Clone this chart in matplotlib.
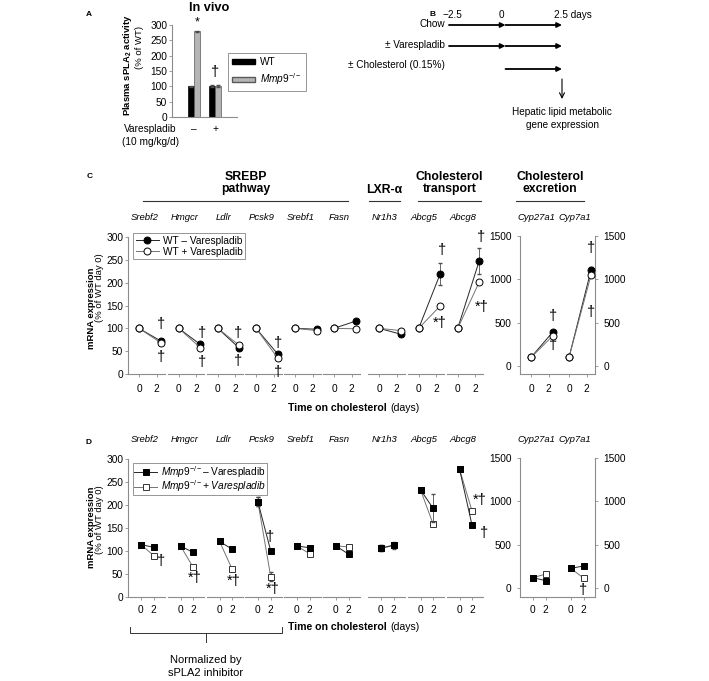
import matplotlib
matplotlib.use("Agg")
import matplotlib.pyplot as plt
import numpy as np
from matplotlib import transforms
from matplotlib.lines import Line2D
from matplotlib.patches import Patch

plt.rcParams["font.family"] = ["Liberation Sans", "DejaVu Sans"]
plt.rcParams["mathtext.fontset"] = "custom"
plt.rcParams["mathtext.rm"] = "Liberation Sans"
plt.rcParams["mathtext.it"] = "Liberation Sans:italic"
plt.rcParams["mathtext.bf"] = "Liberation Sans:bold"

W, H = 709, 681
AXIS_GRAY = "0.55"

# panel A: plasma sPLA2 activity (% of WT)
a_groups = ["\u2013", "+"]
a_wt = [100, 100]
a_wt_err = [1, 3]
a_mmp9 = [280, 102]
a_mmp9_err = [2, 3]

# panel B: study design (days)
b_rows = ["Chow", "\u00b1 Varespladib", "\u00b1 Cholesterol (0.15%)"]
b_start = [-2.5, -2.5, 0.0]
b_end = [2.5, 2.5, 2.5]

# panels C/D: hepatic mRNA expression (% of WT day 0)
genes_left = ["Srebf2", "Hmgcr", "Ldlr", "Pcsk9", "Srebf1", "Fasn", "Nr1h3", "Abcg5", "Abcg8"]
genes_right = ["Cyp27a1", "Cyp7a1"]
header_names = ["SREBP\npathway", "LXR-\u03b1", "Cholesterol\ntransport", "Cholesterol\nexcretion"]

c_days = [0, 2.5]
c_minus_d0 = [100, 100, 100, 100, 100, 100, 100, 100, 100, 100, 100]
c_minus_d2 = [72, 65, 57, 43, 98, 116, 87, 219, 247, 396, 1107]
c_minus_err0 = [0, 0, 0, 0, 0, 0, 0, 0, 0, 0, 0]
c_minus_err2 = [0, 0, 0, 0, 0, 0, 0, 24, 29, 0, 30]
c_plus_d0 = [100, 100, 100, 100, 100, 100, 100, 100, 100, 100, 100]
c_plus_d2 = [68, 58, 63, 34, 95, 99, 95, 149, 201, 350, 1050]
c_marks = [("Srebf2", 2.5, 109, "\u2020"), ("Srebf2", 2.5, 38, "\u2020"),
           ("Hmgcr", 2.7, 90, "\u2020"), ("Hmgcr", 2.7, 26, "\u2020"),
           ("Ldlr", 2.4, 90, "\u2020"), ("Ldlr", 2.4, 28, "\u2020"),
           ("Pcsk9", 2.5, 68, "\u2020"), ("Pcsk9", 2.5, 4, "\u2020"),
           ("Abcg5", 2.7, 271, "\u2020"), ("Abcg5", 2.5, 112, "*\u2020"),
           ("Abcg8", 2.7, 300, "\u2020"), ("Abcg8", 2.85, 147, "*\u2020"),
           ("Cyp27a1", 2.55, 577, "\u2020"), ("Cyp27a1", 2.55, 242, "\u2020"),
           ("Cyp7a1", 2.45, 1357, "\u2020"), ("Cyp7a1", 2.45, 626, "\u2020")]

d_days = [0, 2]
d_minus_d0 = [114, 111, 121, 207, 111, 111, 106, 233, 278, 119, 227]
d_minus_d2 = [108, 97, 104, 100, 107, 93, 113, 193, 156, 84, 254]
d_minus_err0 = [4, 0, 0, 10, 0, 0, 7, 0, 0, 0, 0]
d_minus_err2 = [0, 0, 0, 0, 0, 0, 0, 31, 0, 0, 0]
d_plus_d0 = [114, 111, 121, 207, 111, 111, 106, 233, 278, 119, 227]
d_plus_d2 = [90, 65, 61, 44, 94, 109, 112, 159, 187, 161, 112]
d_marks = [("Srebf2", 3.2, 78, "\u2020"), ("Hmgcr", 2.2, 42, "*\u2020"),
           ("Ldlr", 2.3, 35, "*\u2020"), ("Pcsk9", 1.9, 131, "\u2020"),
           ("Pcsk9", 2.3, 17, "*\u2020"), ("Abcg8", 3.3, 211, "*\u2020"),
           ("Abcg8", 3.9, 140, "\u2020"), ("Cyp7a1", 1.9, -20, "\u2020")]

# layout, in reference pixels
seg_left = [(128, 165), (168, 204), (207, 243), (245, 282), (284, 321),
            (323, 360), (368, 405), (408, 444), (447, 483)]
seg_right = [(520, 557), (558, 595)]
header_spans = [(143, 348), (369, 400), (418, 481), (516, 584)]

fig = plt.figure(figsize=(W / 100, H / 100), dpi=100)
fig_px = transforms.Affine2D().scale(1 / W, -1 / H).translate(0, 1) + fig.transFigure


def add_px_axes(left, top, right, bottom):
    return fig.add_axes([left / W, 1 - bottom / H, (right - left) / W, (bottom - top) / H])


def ftext(x, y, s, **kw):
    kw.setdefault("ha", "center")
    kw.setdefault("va", "center")
    return fig.text(x, y, s, transform=fig_px, **kw)


# ---------------- A ----------------
ax_a = add_px_axes(172, 25, 237, 117)
xa = np.arange(len(a_groups))
bw = 0.3
ekw = dict(lw=0.6, capsize=1.5, ecolor="0.3")
ax_a.bar(xa - bw / 2, a_wt, bw, yerr=a_wt_err, color="black", edgecolor="black", lw=0.5, error_kw=ekw)
ax_a.bar(xa + bw / 2, a_mmp9, bw, yerr=a_mmp9_err, color="#b5b5b5", edgecolor="0.35", lw=0.5, error_kw=ekw)
ax_a.set_xlim(-1.05, 2.05)
ax_a.set_ylim(0, 300)
ax_a.set_yticks(range(0, 301, 50))
ax_a.set_xticks([])
ax_a.tick_params(axis="y", labelsize=7.3, length=2, width=0.6, color=AXIS_GRAY, pad=1.5)
for side in ("top", "right"):
    ax_a.spines[side].set_visible(False)
for side in ("left", "bottom"):
    ax_a.spines[side].set_color(AXIS_GRAY)
    ax_a.spines[side].set_linewidth(0.8)
ax_a.text(xa[0] + bw / 2, 288, "*", ha="center", va="bottom", fontsize=9)
ax_a.text(xa[1], 147, "\u2020", ha="center", va="center", fontsize=10.5)
grp_tr = transforms.blended_transform_factory(ax_a.transData, fig_px)
for x, g in zip(xa, a_groups):
    ax_a.text(x, 129, g, transform=grp_tr, ha="center", va="center", fontsize=7.3)
ftext(150, 129, "Varespladib", fontsize=7.3)
ftext(150, 142, "(10 mg/kg/d)", fontsize=7.3)
ftext(209, 8, "In vivo", fontsize=9.2, fontweight="bold")
ftext(127, 65, r"Plasma sPLA$_\mathbf{2}$ activity", fontsize=6.8, fontweight="bold", rotation=90)
ftext(139, 47, "(% of WT)", fontsize=6.8, rotation=90)
ftext(89, 14, "A", fontsize=6, fontweight="bold")
leg_a = ax_a.legend([Patch(facecolor="black", edgecolor="black"),
                     Patch(facecolor="#b5b5b5", edgecolor="0.35")],
                    ["WT", r"$\mathit{Mmp9}^{-/-}$"],
                    loc="upper left", bbox_to_anchor=(228 / W, 1 - 53 / H),
                    bbox_transform=fig.transFigure, fontsize=7.3, frameon=True,
                    fancybox=False, edgecolor="0.4", handlelength=2.3, handleheight=0.45,
                    labelspacing=0.4, borderpad=0.4, handletextpad=0.5, borderaxespad=0)
leg_a.get_frame().set_linewidth(0.6)

# ---------------- B ----------------
ax_b = add_px_axes(449, 0, 562, 131)
ax_b.set_xlim(-2.5, 2.5)
ax_b.set_ylim(131, 0)
ax_b.axis("off")
row_y = [25, 46, 69]
label_y = [24, 45, 65]
head = dict(arrowstyle="-|>", lw=1.3, color="black", mutation_scale=7, shrinkA=0, shrinkB=0)
for lab, s, e, y, ly in zip(b_rows, b_start, b_end, row_y, label_y):
    if s < 0:
        ax_b.annotate("", xy=(0, y), xytext=(s, y), arrowprops=head)
        ax_b.annotate("", xy=(e, y), xytext=(0, y), arrowprops=head)
    else:
        ax_b.annotate("", xy=(e, y), xytext=(s, y), arrowprops=head)
    ax_b.text(-2.5 - 0.18, ly, lab, ha="right", va="center", fontsize=7.2)
ax_b.text(-2.35, 15, "\u22122.5", ha="center", va="center", fontsize=7.2)
ax_b.text(-0.18, 15, "0", ha="center", va="center", fontsize=7.2)
ax_b.text(2.15, 15, "2.5 days", ha="left", va="center", fontsize=7.2)
ax_b.annotate("", xy=(2.5, 99), xytext=(2.5, 79),
              arrowprops=dict(arrowstyle="->", lw=0.8, color="black", mutation_scale=9,
                              shrinkA=0, shrinkB=0))
ax_b.text(2.5, 112, "Hepatic lipid metabolic", ha="center", va="center", fontsize=7.2)
ax_b.text(2.5, 125, "gene expression", ha="center", va="center", fontsize=7.2)
ftext(432, 14, "B", fontsize=6, fontweight="bold")


# ---------------- C / D ----------------
def draw_expression(top, bottom, right_top, right_floor, days, xlim, series, marks,
                    label_y, tick_pad):
    axes = {}
    for gene, (l, r) in zip(genes_left, seg_left):
        ax = add_px_axes(l, top, r, bottom)
        ax.set_ylim(0, 300)
        axes[gene] = ax
    for gene, (l, r) in zip(genes_right, seg_right):
        ax = add_px_axes(l, right_top, r, bottom)
        ax.set_ylim(right_floor, 1500)
        axes[gene] = ax

    genes = genes_left + genes_right
    for i, gene in enumerate(genes):
        ax = axes[gene]
        ax.set_facecolor("none")
        ax.set_xlim(*xlim)
        ax.set_xticks([0, 2])
        ax.set_xticklabels(["0", "2"])
        ax.tick_params(axis="x", labelsize=7.3, length=2, width=0.6, color=AXIS_GRAY, pad=tick_pad)
        ax.tick_params(axis="y", labelsize=7.3, length=2, width=0.6, color=AXIS_GRAY, pad=1.5)
        for side in ("top", "right", "left"):
            ax.spines[side].set_visible(False)
        ax.spines["bottom"].set_color(AXIS_GRAY)
        ax.spines["bottom"].set_linewidth(0.8)
        if gene == genes_left[0]:
            ax.spines["left"].set_visible(True)
            ax.set_yticks(range(0, 301, 50))
        elif gene == genes_right[0]:
            ax.spines["left"].set_visible(True)
            ax.set_yticks(range(0, 1501, 500))
            ax.tick_params(axis="y", pad=4)
        elif gene == genes_right[-1]:
            ax.spines["right"].set_visible(True)
            ax.yaxis.tick_right()
            ax.set_yticks(range(0, 1501, 500))
            ax.tick_params(axis="y", pad=4)
        else:
            ax.set_yticks([])
        for side in ("left", "right"):
            ax.spines[side].set_color(AXIS_GRAY)
            ax.spines[side].set_linewidth(0.8)

        for d0, d2, e0, e2, style in series:
            ax.plot(days, [d0[i], d2[i]], clip_on=False, **style)
            if e0[i] or e2[i]:
                ax.errorbar(days, [d0[i], d2[i]], yerr=[e0[i], e2[i]], fmt="none",
                            ecolor="0.3", elinewidth=0.6, capsize=1.5, zorder=style["zorder"] - 0.5)

        lab_tr = transforms.blended_transform_factory(ax.transAxes, fig_px)
        ax.text(0.45, label_y, gene, transform=lab_tr, ha="center", va="center",
                fontsize=6.8, style="italic")

    for gene, x, y, s in marks:
        axes[gene].text(x, y, s, ha="center", va="center", fontsize=10.5)
    return axes


filled_c = dict(color="0.15", lw=0.7, marker="o", ms=5, mfc="black", mec="black", mew=0.7, zorder=3)
open_c = dict(color="0.45", lw=0.7, marker="o", ms=5, mfc="white", mec="black", mew=0.7, zorder=4)
axes_c = draw_expression(237, 374, 236, -92, c_days, (-1.25, 2.95),
                         [(c_minus_d0, c_minus_d2, c_minus_err0, c_minus_err2, filled_c),
                          (c_plus_d0, c_plus_d2, c_minus_err0, c_minus_err0, open_c)],
                         c_marks, 217, 5)

filled_d = dict(color="0.15", lw=0.7, marker="s", ms=4.6, mfc="black", mec="black", mew=0.7, zorder=4)
open_d = dict(color="0.45", lw=0.7, marker="s", ms=4.6, mfc="white", mec="0.2", mew=0.7, zorder=3)
axes_d = draw_expression(459, 597, 458, -104, d_days, (-2.0, 3.75),
                         [(d_plus_d0, d_plus_d2, d_minus_err0, d_minus_err0, open_d),
                          (d_minus_d0, d_minus_d2, d_minus_err0, d_minus_err2, filled_d)],
                         d_marks, 440, 4)

# headers for C
for name, (l, r) in zip(header_names, header_spans):
    ftext((l + r) / 2, 183 if "\n" in name else 190, name, fontsize=8.8, fontweight="bold",
          linespacing=1.1)
    fig.add_artist(Line2D([l, r], [201, 201], transform=fig_px, color="0.2", lw=0.8))

ftext(90, 176, "C", fontsize=6, fontweight="bold")
ftext(89, 442, "D", fontsize=6, fontweight="bold")

for ylab, yb in ((308, 288), (527, 520)):
    ftext(92, ylab, "mRNA expression", fontsize=6.8, fontweight="bold", rotation=90)
    ftext(100, yb, "(% of WT day 0)", fontsize=6.8, rotation=90)

for y in (408, 627):
    ftext(387, y, "Time on cholesterol", ha="right", fontsize=7.6, fontweight="bold")
    ftext(390, y, "(days)", ha="left", fontsize=7.6)


def legend_line(style):
    return Line2D([], [], **{k: v for k, v in style.items() if k != "zorder"})


leg_kw = dict(loc="upper left", fontsize=7.3, fancybox=False, edgecolor="0.4",
              handlelength=2.3, labelspacing=0.12, borderpad=0.25, handletextpad=0.4,
              borderaxespad=0)
leg_c = fig.legend([legend_line(filled_c), legend_line(open_c)],
                   ["WT \u2013 Varespladib", "WT + Varespladib"],
                   bbox_to_anchor=(133 / W, 1 - 233 / H), **leg_kw)
leg_c.get_frame().set_linewidth(0.6)

leg_kw_d = dict(leg_kw, labelspacing=-0.15, borderpad=0.1)
leg_d = fig.legend([legend_line(filled_d), legend_line(open_d)],
                   [r"$\mathit{Mmp9}^{-/-}$" + "\u2013 Varespladib",
                    r"$\mathit{Mmp9}^{-/-}$" + "+ Varespladib"],
                   bbox_to_anchor=(133 / W, 1 - 463 / H), **leg_kw_d)
leg_d.get_frame().set_linewidth(0.6)
leg_d.get_texts()[1].set_fontstyle("italic")

# bracket under D
fig.add_artist(Line2D([130, 130, 282, 282], [627, 633, 633, 627], transform=fig_px, color="0.2", lw=0.7))
fig.add_artist(Line2D([206, 206], [633, 642], transform=fig_px, color="0.2", lw=0.7))
ftext(206, 660, "Normalized by", fontsize=8)
ftext(206, 673, "sPLA2 inhibitor", fontsize=8)

fig.savefig("out.png", dpi=100)
